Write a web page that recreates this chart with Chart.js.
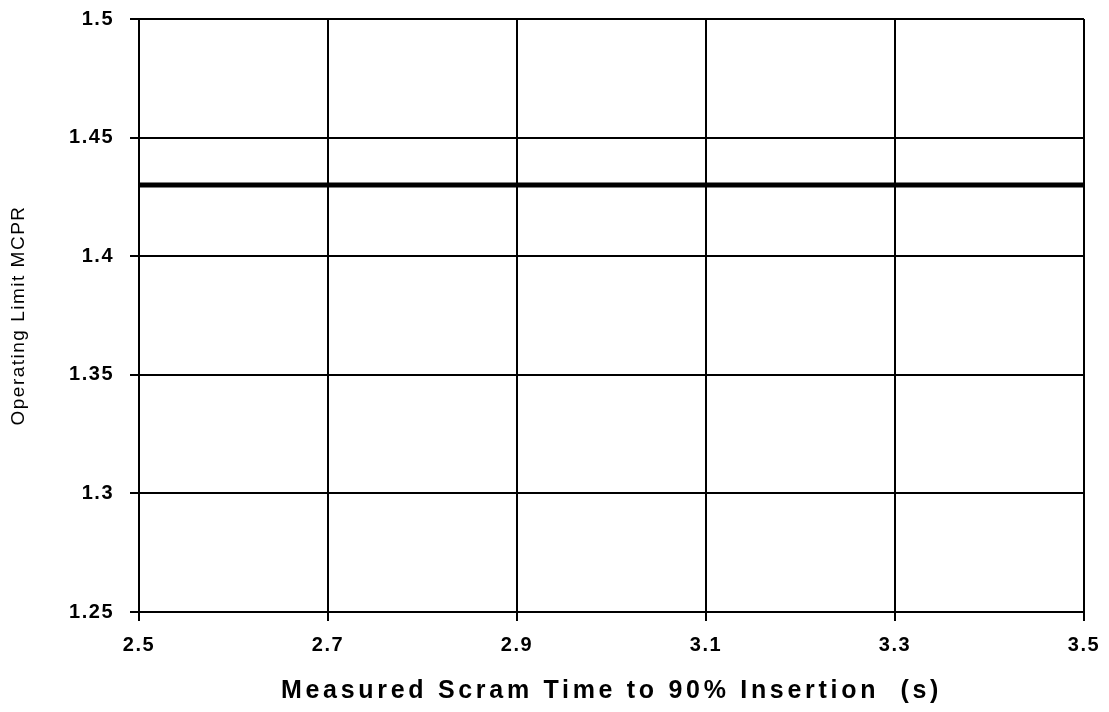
<!DOCTYPE html>
<html>
<head>
<meta charset="utf-8">
<script src="https://cdn.jsdelivr.net/npm/chart.js@4/dist/chart.umd.min.js"></script>
<style>
  html, body { margin: 0; padding: 0; background: #fff; }
  #wrap { width: 1109px; height: 712px; }
</style>
</head>
<body>
<div id="wrap"><canvas id="myChart"></canvas></div>
<script>
// operating limit line
const scramTimes = [2.5, 3.5];
const limitMcpr = [1.43, 1.43];

const xTicks = [2.5, 2.7, 2.9, 3.1, 3.3, 3.5];
const yTicks = [1.25, 1.3, 1.35, 1.4, 1.45, 1.5];

const xTitle = "Measured Scram Time to 90% Insertion  (s)";
const yTitle = "Operating Limit MCPR";

const FONT = "'Liberation Sans', Arial, sans-serif";

// the scanned text is spaced out, so wrap the scale's text drawing
const withSpacing = (scale, method, spacing) => {
  const orig = scale[method];
  scale[method] = function (...args) {
    const ctx = this.ctx;
    const prev = ctx.letterSpacing;
    ctx.letterSpacing = spacing;
    orig.apply(this, args);
    ctx.letterSpacing = prev;
  };
};

const setupScale = (scale, titleSpacing) => {
  if (scale._spaced) return;
  withSpacing(scale, "drawLabels", "1.5px");
  withSpacing(scale, "drawTitle", titleSpacing);
  scale._spaced = true;
};

const points = scramTimes.map((x, i) => ({ x: x, y: limitMcpr[i] }));

const gridStyle = {
  color: "#000",
  lineWidth: 2,
  tickLength: 9,
  tickColor: "#000",
  tickWidth: 2,
};

new Chart(document.getElementById("myChart"), {
  type: "line",
  data: {
    datasets: [
      {
        data: points,
        borderColor: "#000",
        borderWidth: 5,
        pointRadius: 0,
        tension: 0,
      },
    ],
  },
  options: {
    responsive: true,
    maintainAspectRatio: false,
    animation: false,
    layout: { padding: { top: 19, right: 25, left: 0, bottom: 0 } },
    plugins: {
      legend: { display: false },
      tooltip: { enabled: false },
    },
    scales: {
      x: {
        type: "linear",
        min: xTicks[0],
        max: xTicks[xTicks.length - 1],
        afterBuildTicks: (scale) => {
          scale.ticks = xTicks.map((v) => ({ value: v }));
        },
        afterFit: (scale) => {
          scale.height = 100;
          scale.paddingLeft = 0;
          scale.paddingRight = 0;
          setupScale(scale, "3.7px");
        },
        grid: gridStyle,
        border: { display: true, color: "#000", width: 2 },
        ticks: {
          color: "#000",
          padding: 12,
          maxRotation: 0,
          font: { family: FONT, size: 20, weight: "bold" },
          callback: (v) => String(v),
        },
        title: {
          display: true,
          text: xTitle,
          color: "#000",
          padding: { top: 0, bottom: 6 },
          font: { family: FONT, size: 25, weight: "bold" },
        },
      },
      y: {
        type: "linear",
        min: yTicks[0],
        max: yTicks[yTicks.length - 1],
        afterBuildTicks: (scale) => {
          scale.ticks = yTicks.map((v) => ({ value: v }));
        },
        afterFit: (scale) => {
          scale.width = 139;
          scale.paddingTop = 0;
          scale.paddingBottom = 0;
          setupScale(scale, "1.5px");
        },
        grid: gridStyle,
        border: { display: true, color: "#000", width: 2 },
        ticks: {
          color: "#000",
          padding: 16,
          font: { family: FONT, size: 20, weight: "bold" },
          callback: (v) => String(v),
        },
        title: {
          display: true,
          text: yTitle,
          color: "#000",
          padding: { top: 7, bottom: 0 },
          font: { family: FONT, size: 19 },
        },
      },
    },
  },
});
</script>
</body>
</html>
